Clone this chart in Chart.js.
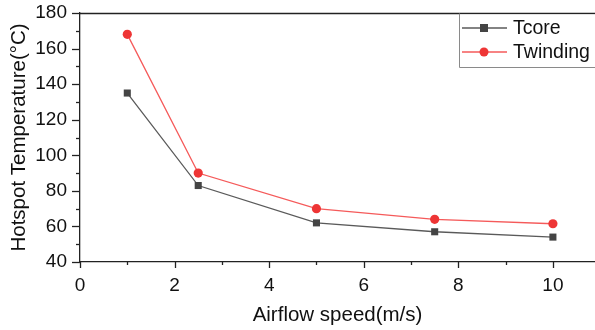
<!DOCTYPE html>
<html>
<head>
<meta charset="utf-8">
<script src="https://cdn.jsdelivr.net/npm/chart.js@4"></script>
<style>
  html, body { margin: 0; padding: 0; background: #fff; }
  #wrap { width: 595px; height: 330px; }
</style>
</head>
<body>
<div id="wrap"><canvas id="c" width="595" height="330"></canvas></div>
<script>
// Hotspot temperatures versus airflow speed
const airflowSpeed = [1, 2.5, 5, 7.5, 10];
const tCore = [135, 83, 62, 57, 54];
const tWinding = [168, 90, 70, 64, 61.5];
const xTickValues = [0, 2, 4, 6, 8, 10];
const yTickValues = [40, 60, 80, 100, 120, 140, 160, 180];

const FONT = "'Liberation Sans', Arial, sans-serif";
const INK = '#111';

function toPoints(xs, ys) {
  return xs.map((x, i) => ({ x: x, y: ys[i] }));
}

// Major/minor tick marks drawn outside the axes, plus the top frame line
const tickMarks = {
  id: 'tickMarks',
  afterDraw(chart) {
    const { ctx, chartArea, scales } = chart;
    const xs = scales.x, ys = scales.y;
    ctx.save();
    ctx.strokeStyle = '#222';
    ctx.lineWidth = 1.3;
    const bottom = chartArea.bottom, left = chartArea.left;
    const line = (x1, y1, x2, y2) => { ctx.beginPath(); ctx.moveTo(x1, y1); ctx.lineTo(x2, y2); ctx.stroke(); };
    xTickValues.forEach((v) => {
      const px = Math.round(xs.getPixelForValue(v)) + 0.5;
      line(px, bottom, px, bottom + 6);
      const mid = v + 1;
      if (mid <= xs.max) {
        const pm = Math.round(xs.getPixelForValue(mid)) + 0.5;
        line(pm, bottom, pm, bottom + 3);
      }
    });
    yTickValues.forEach((v, i) => {
      const py = Math.round(ys.getPixelForValue(v)) + 0.5;
      line(left, py, left - 8, py);
      if (i < yTickValues.length - 1) {
        const pm = Math.round(ys.getPixelForValue(v + 10)) + 0.5;
        line(left, pm, left - 4, pm);
      }
    });
    // top frame
    ctx.lineWidth = 1.6;
    line(left, chartArea.top + 0.5, 595, chartArea.top + 0.5);
    ctx.restore();
  }
};

// Boxed legend with line + marker samples
const boxLegend = {
  id: 'boxLegend',
  afterDraw(chart) {
    const { ctx, chartArea } = chart;
    const x0 = 459.5, y0 = chartArea.top + 0.5, h = 54;
    ctx.save();
    ctx.fillStyle = '#fff';
    ctx.fillRect(x0, y0 + 1, 200, h - 1);
    ctx.strokeStyle = '#8a8a8a';
    ctx.lineWidth = 1;
    ctx.beginPath();
    ctx.moveTo(x0, y0);
    ctx.lineTo(x0, y0 + h);
    ctx.lineTo(600, y0 + h);
    ctx.stroke();
    const rows = [chartArea.top + 15, chartArea.top + 39];
    chart.data.datasets.forEach((ds, i) => {
      const y = rows[i];
      ctx.strokeStyle = ds.borderColor;
      ctx.lineWidth = ds.borderWidth;
      ctx.beginPath();
      ctx.moveTo(462, y);
      ctx.lineTo(507, y);
      ctx.stroke();
      ctx.fillStyle = ds.pointBackgroundColor;
      if (ds.pointStyle === 'rect') {
        ctx.fillRect(484 - 4, y - 4, 8, 8);
      } else {
        ctx.beginPath();
        ctx.arc(484, y, 4.5, 0, Math.PI * 2);
        ctx.fill();
      }
      ctx.fillStyle = INK;
      ctx.font = '19.5px ' + FONT;
      ctx.textBaseline = 'middle';
      ctx.textAlign = 'left';
      ctx.fillText(ds.label, 513, y + 1);
    });
    ctx.restore();
  }
};

new Chart(document.getElementById('c'), {
  type: 'line',
  data: {
    datasets: [
      {
        label: 'Tcore',
        data: toPoints(airflowSpeed, tCore),
        borderColor: '#5a5a5a',
        borderWidth: 1.3,
        pointStyle: 'rect',
        pointRadius: 5,
        pointBackgroundColor: '#444',
        pointBorderColor: '#444',
        pointBorderWidth: 0,
        tension: 0
      },
      {
        label: 'Twinding',
        data: toPoints(airflowSpeed, tWinding),
        borderColor: '#f55a5a',
        borderWidth: 1.3,
        pointStyle: 'circle',
        pointRadius: 4.6,
        pointBackgroundColor: '#ee3535',
        pointBorderColor: '#ee3535',
        pointBorderWidth: 0,
        tension: 0
      }
    ]
  },
  options: {
    responsive: false,
    animation: false,
    layout: { autoPadding: false, padding: { top: 13, right: 0, left: 0, bottom: 0 } },
    plugins: { legend: { display: false }, tooltip: { enabled: false } },
    scales: {
      x: {
        type: 'linear',
        min: 0,
        max: 10.89,
        afterFit(scale) {
          scale.height = 68;
          scale.paddingLeft = 0;
          scale.paddingRight = 0;
        },
        afterBuildTicks(scale) { scale.ticks = xTickValues.map(v => ({ value: v })); },
        grid: { display: true, drawOnChartArea: false, drawTicks: false },
        border: { display: true, color: '#222', width: 1.3 },
        ticks: { padding: 12, color: INK, font: { family: FONT, size: 19 }, maxRotation: 0 },
        title: {
          display: true,
          text: 'Airflow speed(m/s)',
          color: INK,
          font: { family: FONT, size: 20.5 },
          padding: { top: 0, bottom: 2 }
        }
      },
      y: {
        type: 'linear',
        min: 40,
        max: 180,
        afterFit(scale) {
          scale.width = 80;
          scale.paddingTop = 0;
          scale.paddingBottom = 0;
        },
        afterBuildTicks(scale) { scale.ticks = yTickValues.map(v => ({ value: v })); },
        grid: { display: true, drawOnChartArea: false, drawTicks: false },
        border: { display: true, color: '#222', width: 1.3 },
        ticks: { padding: 13, color: INK, font: { family: FONT, size: 19 } },
        title: {
          display: true,
          text: 'Hotspot Temperature(°C)',
          color: INK,
          font: { family: FONT, size: 20.5 },
          padding: { top: 7, bottom: 0 }
        }
      }
    }
  },
  plugins: [tickMarks, boxLegend]
});
</script>
</body>
</html>
